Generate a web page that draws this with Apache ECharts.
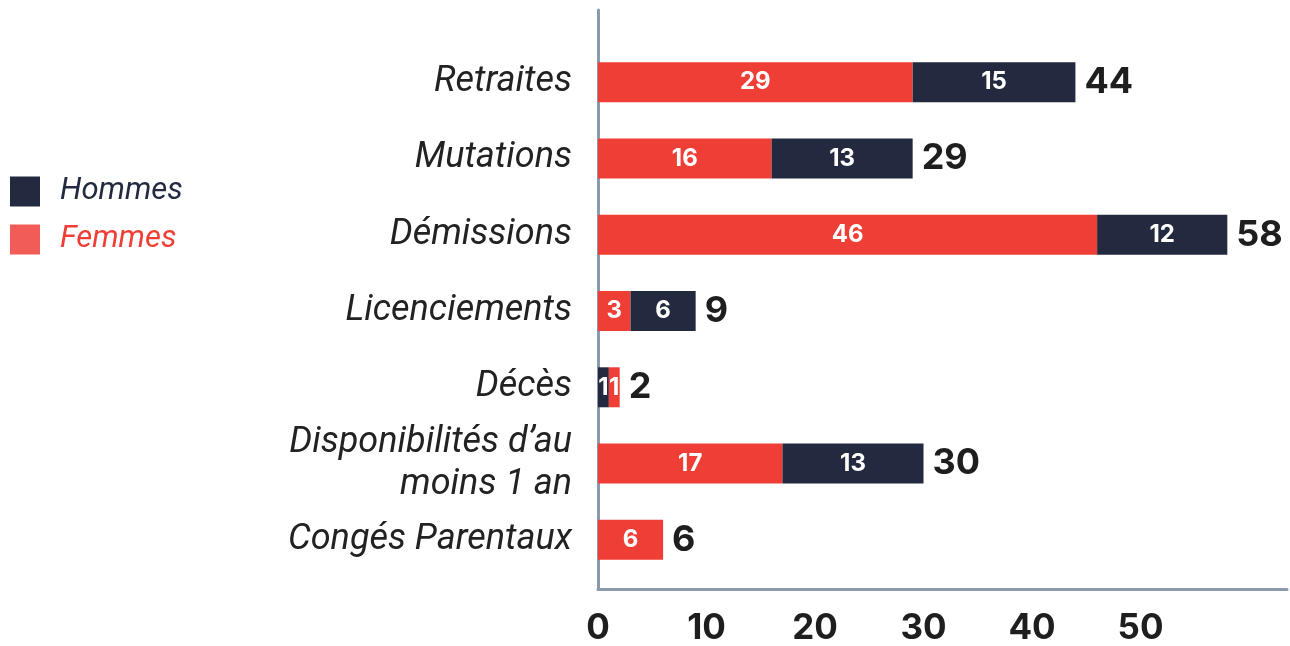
<!DOCTYPE html>
<html>
<head>
<meta charset="utf-8">
<script src="https://cdn.jsdelivr.net/npm/echarts@6/dist/echarts.min.js"></script>
<style>
  html, body { margin: 0; padding: 0; background: #fff; }
  #main { width: 1290px; height: 646px; }
</style>
</head>
<body>
<div id="main"></div>
<script>
// motifs de départ, du haut vers le bas
var categories = ['Retraites', 'Mutations', 'Démissions', 'Licenciements', 'Décès',
  'Disponibilités d\u2019au\nmoins 1 an', 'Congés Parentaux'];
var femmes = [29, 16, 46, 3, 1, 17, 6];
var hommes = [15, 13, 12, 6, 1, 13, null];
// lignes où la barre des hommes est dessinée avant celle des femmes
var hommesFirst = ['Décès'];
var xTicks = [0, 10, 20, 30, 40, 50];

var red = '#ef3e36';
var navy = '#232a40';
var axisColor = '#8a9bb0';
var xMax = 63.5;

var chartDom = document.getElementById('main');
var myChart = echarts.init(chartDom);

var leadHommes = [], tailHommes = [], totals = [];
for (var i = 0; i < categories.length; i++) {
  var first = hommesFirst.indexOf(categories[i]) >= 0;
  leadHommes.push(first ? hommes[i] : null);
  tailHommes.push(first ? null : hommes[i]);
  totals.push([(femmes[i] || 0) + (hommes[i] || 0), i]);
}

var segLabel = {
  show: true,
  position: 'inside',
  color: '#fff',
  fontFamily: 'Inter',
  fontWeight: 'bold',
  fontSize: 24
};

var option = {
  animation: false,
  legend: {
    orient: 'vertical',
    left: 5,
    top: 171,
    itemWidth: 30,
    itemHeight: 30,
    itemGap: 17,
    icon: 'rect',
    textStyle: { fontFamily: 'Roboto', fontStyle: 'italic', fontSize: 31, padding: [0, 0, 0, 15] },
    data: [
      { name: 'Hommes', itemStyle: { color: navy }, textStyle: { color: navy } },
      { name: 'Femmes', itemStyle: { color: '#f25c58' }, textStyle: { color: red } }
    ]
  },
  grid: [
    // barres
    { left: 598, right: 3, top: 44, bottom: 68, containLabel: false },
    // cadre des axes
    { left: 598, right: 3, top: 10, bottom: 56, containLabel: false }
  ],
  xAxis: [
    {
      type: 'value', gridIndex: 0, min: 0, max: xMax, interval: 10,
      axisLine: { show: false }, axisTick: { show: false },
      splitLine: { show: false }, axisLabel: { show: false }
    },
    {
      type: 'value', gridIndex: 1, min: 0, max: xMax, interval: 10,
      axisLine: { show: true, lineStyle: { color: axisColor, width: 3 } },
      axisTick: { show: false },
      splitLine: { show: false },
      axisLabel: {
        margin: 22,
        color: '#1e1e1e',
        fontFamily: 'Inter',
        fontWeight: 'bold',
        fontSize: 35,
        formatter: function (v) { return xTicks.indexOf(v) >= 0 ? String(v) : ''; }
      }
    }
  ],
  yAxis: [
    {
      type: 'category', gridIndex: 0, inverse: true,
      data: categories,
      axisLine: { show: false },
      axisTick: { show: false },
      axisLabel: {
        margin: 26,
        color: '#222',
        fontFamily: 'Roboto',
        fontStyle: 'italic',
        fontSize: 36,
        lineHeight: 42,
        align: 'right'
      }
    },
    {
      type: 'value', gridIndex: 1,
      axisLine: { show: true, lineStyle: { color: axisColor, width: 3 } },
      axisTick: { show: false },
      splitLine: { show: false },
      axisLabel: { show: false }
    }
  ],
  series: [
    {
      name: 'Hommes', type: 'bar', stack: 'total', barWidth: 40,
      itemStyle: { color: navy }, label: segLabel, data: leadHommes
    },
    {
      name: 'Femmes', type: 'bar', stack: 'total', barWidth: 40,
      itemStyle: { color: red }, label: segLabel, data: femmes
    },
    {
      name: 'Hommes', type: 'bar', stack: 'total', barWidth: 40,
      itemStyle: { color: navy }, label: segLabel, data: tailHommes
    },
    {
      name: 'Total', type: 'scatter', symbolSize: 0, silent: true,
      itemStyle: { opacity: 1 },
      data: totals,
      label: {
        show: true,
        position: 'right',
        distance: 9,
        color: '#1e1e1e',
        fontFamily: 'Inter',
        fontWeight: 'bold',
        fontSize: 36,
        formatter: function (p) { return p.value[0]; }
      }
    }
  ]
};

option && myChart.setOption(option);
</script>
</body>
</html>
